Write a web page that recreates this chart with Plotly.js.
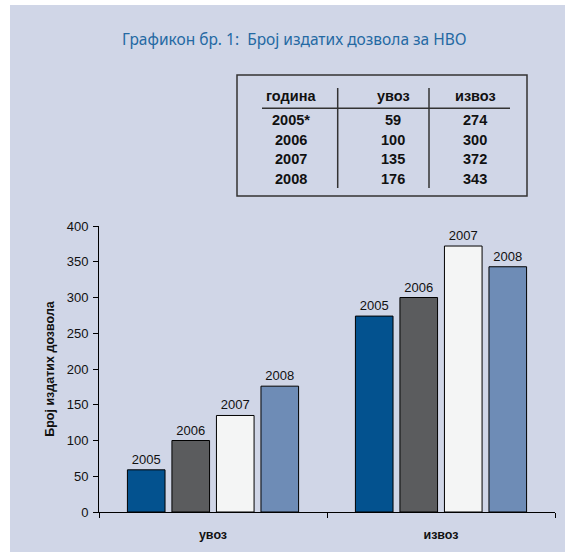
<!DOCTYPE html>
<html>
<head>
<meta charset="utf-8">
<script src="https://cdn.plot.ly/plotly-3.0.1.min.js"></script>
<style>
html,body{margin:0;padding:0;background:#fff;}
#chart{width:565px;height:552px;}
</style>
</head>
<body>
<div id="chart"></div>
<script>
// ---- data ----
const years = ['2005', '2006', '2007', '2008'];
const tableYears = ['2005*', '2006', '2007', '2008'];
const categories = ['увоз', 'извоз'];
const uvoz = [59, 100, 135, 176];
const izvoz = [274, 300, 372, 343];
const tableHeaders = ['година', 'увоз', 'извоз'];
const barColors = ['#03528f', '#5b5c5e', '#f4f5f5', '#6e8cb6'];

const FONT = 'Liberation Sans, Arial, sans-serif';

// pixel -> paper helpers (plot area: x 99..555, y 226..512)
const L = 99, R = 555, T = 226, B = 512;
const px = x => (x - L) / (R - L);
const py = y => (B - y) / (B - T);

const traces = years.map((yr, i) => ({
  type: 'bar',
  name: yr,
  x: categories,
  y: [uvoz[i], izvoz[i]],
  text: [yr, yr],
  textposition: 'outside',
  constraintext: 'none',
  cliponaxis: false,
  textfont: {family: FONT, size: 13, color: '#111'},
  marker: {color: barColors[i], line: {color: '#000', width: 1}},
  hoverinfo: 'x+y+name'
}));

// table annotations
const annotations = [];
const colX = [290.5, 393, 475];
tableHeaders.forEach((h, c) => {
  annotations.push({xref: 'paper', yref: 'paper', x: px(colX[c]), y: py(96),
    text: h, showarrow: false, xanchor: 'center', yanchor: 'middle',
    font: {family: FONT, size: 14.5, color: '#111', weight: 'bold'}});
});
tableYears.forEach((yr, r) => {
  const rowY = 120 + r * 19.5;
  const cells = [yr, String(uvoz[r]), String(izvoz[r])];
  cells.forEach((t, c) => {
    annotations.push({xref: 'paper', yref: 'paper', x: px(colX[c]), y: py(rowY),
      text: t, showarrow: false, xanchor: 'center', yanchor: 'middle',
      font: {family: FONT, size: 14.5, color: '#111', weight: 'bold'}});
  });
});
// title
annotations.push({xref: 'paper', yref: 'paper', x: px(294), y: py(39),
  text: 'Графикон бр. 1:  Број издатих дозвола за НВО', showarrow: false,
  xanchor: 'center', yanchor: 'middle',
  font: {family: 'Noto Sans, Open Sans, sans-serif', size: 15.5, color: '#2469a3'}});

const lineStyle = {color: '#333', width: 1.5};
const shapes = [
  {type: 'rect', xref: 'paper', yref: 'paper', x0: px(10), x1: px(565), y0: py(5), y1: py(552),
    fillcolor: '#d0d6e7', line: {width: 0}, layer: 'below'},
  {type: 'rect', xref: 'paper', yref: 'paper', x0: px(237), x1: px(527), y0: py(75), y1: py(196),
    line: lineStyle},
  {type: 'line', xref: 'paper', yref: 'paper', x0: px(262), x1: px(510), y0: py(108.3), y1: py(108.3),
    line: lineStyle},
  {type: 'line', xref: 'paper', yref: 'paper', x0: px(337.7), x1: px(337.7), y0: py(88), y1: py(188),
    line: lineStyle},
  {type: 'line', xref: 'paper', yref: 'paper', x0: px(429), x1: px(429), y0: py(88), y1: py(188),
    line: lineStyle}
];

const layout = {
  width: 565, height: 552,
  margin: {l: L, r: 565 - R, t: T, b: 552 - B},
  paper_bgcolor: '#ffffff',
  plot_bgcolor: 'rgba(0,0,0,0)',
  showlegend: false,
  barmode: 'group',
  bargap: 0.219,
  bargroupgap: 0.155,
  font: {family: FONT, color: '#111'},
  xaxis: {
    type: 'category',
    showline: true, linecolor: '#000', linewidth: 1,
    ticks: 'outside', tickson: 'boundaries', ticklen: 5, tickcolor: '#000',
    ticklabelstandoff: 11,
    tickfont: {family: FONT, size: 12.5, color: '#111', weight: 'bold'},
    showgrid: false, zeroline: false
  },
  yaxis: {
    range: [0, 400], dtick: 50, tick0: 0,
    showline: true, linecolor: '#000', linewidth: 1,
    ticks: 'outside', ticklen: 5, tickcolor: '#000',
    ticklabelstandoff: 2,
    tickfont: {family: FONT, size: 13, color: '#111'},
    showgrid: false, zeroline: false,
    title: {text: 'Број издатих дозвола', standoff: 9,
      font: {family: FONT, size: 12.5, color: '#111', weight: 'bold'}}
  },
  annotations: annotations,
  shapes: shapes
};

Plotly.newPlot('chart', traces, layout, {displayModeBar: false, staticPlot: true});
</script>
</body>
</html>
